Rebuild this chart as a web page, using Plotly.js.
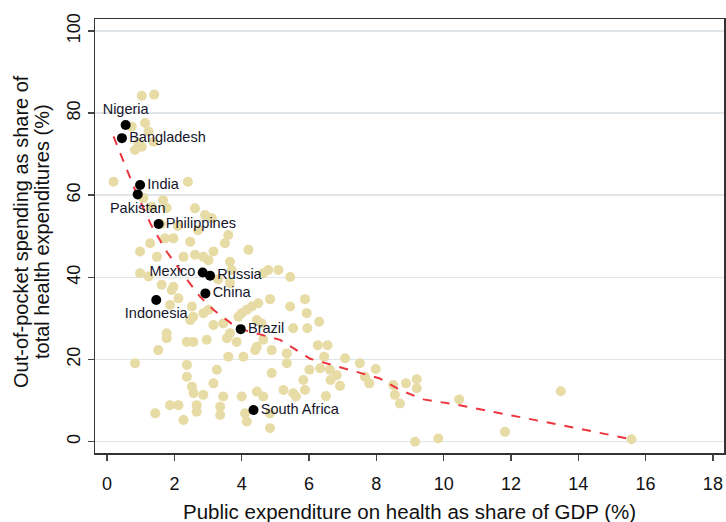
<!DOCTYPE html>
<html>
<head>
<meta charset="utf-8">
<script src="https://cdn.plot.ly/plotly-3.0.1.min.js"></script>
<style>html,body{margin:0;padding:0;background:#fff;}#chart{width:726px;height:522px;}</style>
</head>
<body>
<div id="chart"></div>
<script>
// Other countries (public health expenditure % GDP, out-of-pocket % of total)
const otherX = [1.03,1.40,0.73,1.13,1.23,0.93,0.83,1.38,1.03,0.19,2.40,1.08,1.66,1.33,1.77,2.61,2.91,3.11,3.60,3.50,4.20,2.47,2.27,2.61,2.86,3.16,3.01,3.65,1.72,1.97,1.48,1.28,0.98,4.79,5.09,3.70,3.65,1.97,0.98,1.23,1.62,1.92,2.12,2.52,2.86,3.01,1.87,2.56,2.47,3.16,3.45,3.65,3.56,3.85,2.37,2.56,2.96,1.77,1.77,1.52,0.83,3.60,4.05,2.37,2.37,2.52,2.57,2.86,3.26,3.16,3.45,4.00,1.87,2.12,1.43,2.27,2.66,2.66,3.36,3.36,4.10,4.15,4.45,4.64,4.84,4.84,4.89,5.24,5.53,5.34,5.83,5.44,4.84,4.49,4.30,4.15,4.00,3.90,5.93,4.45,4.59,4.64,4.45,4.89,4.40,5.34,5.53,5.88,6.30,5.95,6.26,6.55,6.45,7.07,7.51,7.98,6.01,6.33,6.62,6.82,5.88,6.64,6.92,7.66,7.79,8.50,8.55,8.70,8.88,9.20,9.20,5.61,6.50,10.46,9.15,9.84,11.82,13.48,15.58,4.64,5.44,2.10,2.70,3.30,1.60];
const otherY = [84.2,84.5,76.7,77.6,75.5,72.7,71.0,73.0,71.8,63.3,63.3,59.3,58.8,57.2,56.9,56.8,55.2,54.4,50.3,48.3,46.7,48.7,45.0,45.5,45.0,46.3,44.2,43.8,49.5,49.5,45.0,48.3,46.3,41.8,41.8,41.8,38.6,37.7,41.0,40.2,38.2,36.9,34.9,32.9,31.3,32.1,33.3,30.4,29.6,28.4,28.8,26.4,25.2,24.3,24.3,24.3,24.8,26.4,25.2,22.3,19.1,20.7,20.7,18.7,15.8,13.4,11.8,11.4,17.5,14.2,11.0,11.0,8.9,8.9,6.9,5.3,8.9,7.3,8.5,6.5,6.9,4.9,12.2,11.0,6.9,3.3,16.7,12.6,11.8,19.1,15.0,32.9,34.7,33.7,32.9,32.1,31.3,30.4,31.3,29.6,28.8,24.8,23.1,22.3,22.3,21.5,27.6,34.7,29.2,27.6,23.5,23.5,20.7,20.3,19.1,17.7,17.5,17.9,17.5,16.2,12.6,15.0,13.6,15.8,14.2,13.8,11.4,9.3,14.2,15.2,13.0,11.0,11.1,10.3,0.0,0.8,2.4,12.3,0.6,41.0,40.1,52.5,51.5,39.5,53.0];

// Highlighted countries
const hlNames = ["Nigeria","Bangladesh","India","Pakistan","Philippines","Mexico","Russia","China","Indonesia","Brazil","South Africa"];
const hlX = [0.55,0.44,0.98,0.91,1.53,2.84,3.06,2.92,1.46,3.97,4.35];
const hlY = [77.1,73.9,62.5,60.2,53.0,41.2,40.4,36.1,34.5,27.4,7.7];
const hlPos = ["top center","middle right","middle right","bottom center","middle right","middle left","middle right","middle right","bottom center","middle right","middle right"];

// Fitted curve
const fitX = [0.19,0.83,1.28,1.75,2.27,2.76,3.16,3.75,3.97,5.14,6.03,7.00,8.10,8.70,9.40,10.40,12.27,14.00,15.58];
const fitY = [74.3,61.3,53.2,46.5,40.6,35.3,32.1,28.4,27.4,24.8,20.2,18.0,15.4,12.6,10.3,9.0,5.9,3.2,0.6];

const xTicks = [0,2,4,6,8,10,12,14,16,18];
const yTicks = [0,20,40,60,80,100];

const xTitle = "Public expenditure on health as share of GDP (%)";
const yTitleLines = ["Out-of-pocket spending as share of", "total health expenditures (%)"];

const font = "Liberation Sans, Arial, sans-serif";

const traces = [
  {x: otherX, y: otherY, type: "scatter", mode: "markers",
   marker: {color: "rgb(231,219,166)", size: 10, line: {width: 0}}, hoverinfo: "skip"},
  {x: fitX, y: fitY, type: "scatter", mode: "lines",
   line: {color: "rgb(236,52,62)", width: 2, dash: "dash"}, hoverinfo: "skip"},
  {x: hlX, y: hlY, text: hlNames, textposition: hlPos, type: "scatter", mode: "markers+text",
   marker: {color: "#000", size: 10}, textfont: {family: font, size: 14.5, color: "#15152a"}}
];

// plot area: 95..724 px horizontally (629 px), 19..453 px vertically (434 px)
const layout = {
  width: 726, height: 522,
  margin: {l: 95, r: 2, t: 19, b: 69},
  paper_bgcolor: "#fff", plot_bgcolor: "#fff",
  showlegend: false,
  font: {family: font, color: "#111"},
  xaxis: {
    range: [-0.36, 18.33], tickvals: xTicks, ticktext: xTicks.map(String),
    showgrid: false, zeroline: false, showline: true, mirror: true,
    linecolor: "#333", linewidth: 1.5,
    ticks: "outside", ticklen: 6, tickcolor: "#444", tickwidth: 1.5,
    ticklabelstandoff: 8,
    tickfont: {size: 18, color: "#111"}
  },
  yaxis: {
    range: [-2.75, 102.9], tickvals: yTicks, ticktext: yTicks.map(String),
    showgrid: true, gridcolor: "#dfe5e8", gridwidth: 1.5, zeroline: false,
    showline: true, mirror: true, linecolor: "#333", linewidth: 1.5,
    ticks: "outside", ticklen: 6, tickcolor: "#444", tickwidth: 1.5,
    tickangle: -90, tickfont: {size: 18, color: "#111"}
  },
  annotations: [
    {text: xTitle, xref: "paper", yref: "paper", x: 0.5, y: (453 - 511) / 434,
     xanchor: "center", yanchor: "middle", showarrow: false,
     font: {size: 20.5, color: "#111"}},
    {text: yTitleLines[0], xref: "paper", yref: "paper", x: (21 - 95) / 629, y: (453 - 232) / 434,
     xanchor: "center", yanchor: "middle", showarrow: false, textangle: -90,
     font: {size: 20, color: "#111"}},
    {text: yTitleLines[1], xref: "paper", yref: "paper", x: (42 - 95) / 629, y: (453 - 232) / 434,
     xanchor: "center", yanchor: "middle", showarrow: false, textangle: -90,
     font: {size: 20, color: "#111"}}
  ]
};

Plotly.newPlot("chart", traces, layout, {displayModeBar: false, staticPlot: true});
</script>
</body>
</html>
